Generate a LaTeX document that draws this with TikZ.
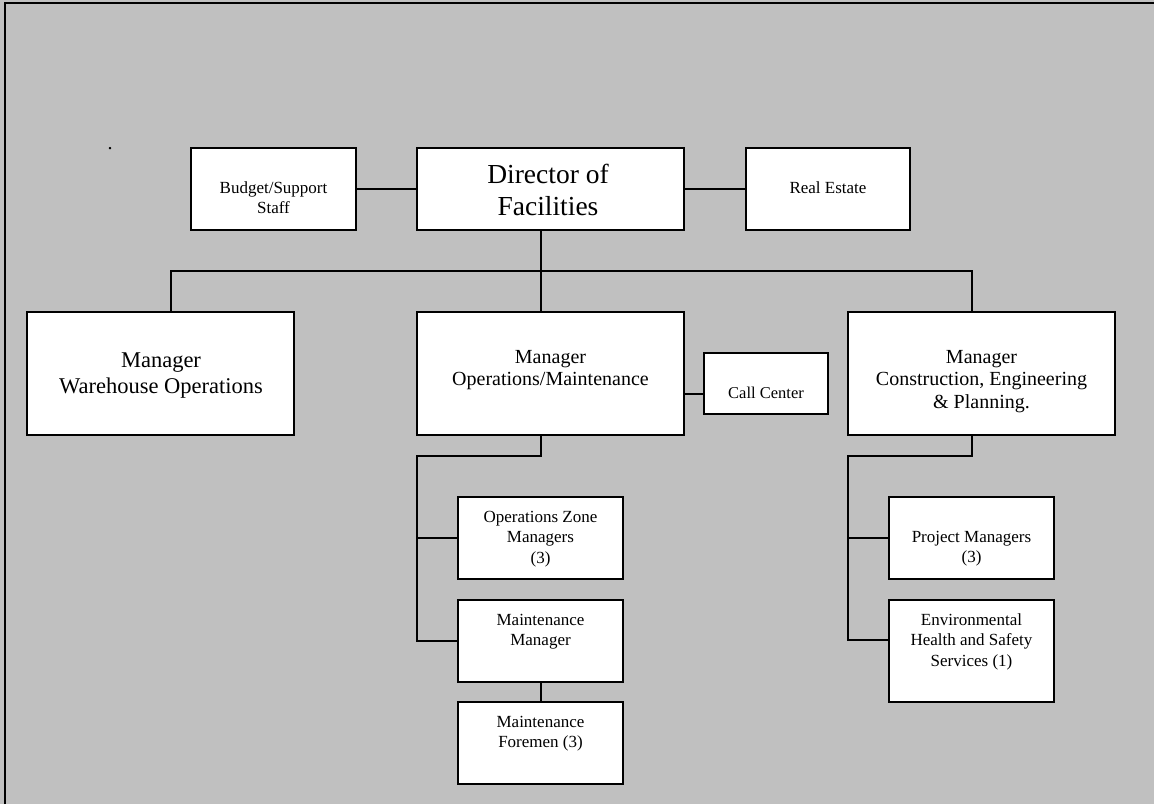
\documentclass[tikz,border=0pt]{standalone}
\usepackage{fontspec}
\setmainfont{Liberation Serif}
\usetikzlibrary{calc}
\definecolor{panel}{HTML}{C0C0C0}
\newcommand{\lines}[1]{\begin{tabular}[t]{@{}c@{}}#1\end{tabular}}
\begin{document}
\begin{tikzpicture}[x=1pt,y=-1pt,
  orgbox/.style={draw=black,fill=white,line width=1.8pt,inner sep=0pt},
  link/.style={draw=black,line width=1.6pt},
  txtbig/.style={anchor=base,inner sep=0pt,font=\fontsize{27.5}{32}\selectfont},
  txtmgr/.style={anchor=base,inner sep=0pt,font=\fontsize{20}{22.5}\selectfont},
  txtwh/.style={anchor=base,inner sep=0pt,font=\fontsize{22.5}{26}\selectfont},
  txtsm/.style={anchor=base,inner sep=0pt,font=\fontsize{17}{20.5}\selectfont}]
  % page and frame
  \fill[panel] (0,0) rectangle (1154,804);
  \useasboundingbox (0,0) rectangle (1154,804);
  \draw[line width=2pt] (5,804) -- (5,3) -- (1154,3);
  \node[inner sep=0pt,anchor=base,font=\fontsize{20}{22}\selectfont] (dot) at (110,149) {.};

  % boxes
  \node[orgbox,minimum width=165,minimum height=82] (bud) at (273.5,189) {};
  \node[orgbox,minimum width=267,minimum height=82] (dir) at (550.5,189) {};
  \node[orgbox,minimum width=164,minimum height=82] (re)  at (828,189) {};
  \node[orgbox,minimum width=267,minimum height=123] (wh) at (160.5,373.5) {};
  \node[orgbox,minimum width=267,minimum height=123] (om) at (550.5,373.5) {};
  \node[orgbox,minimum width=267,minimum height=123] (cep) at (981.5,373.5) {};
  \node[orgbox,minimum width=124,minimum height=61] (cc) at (766,383.5) {};
  \node[orgbox,minimum width=165,minimum height=82] (oz) at (540.5,538) {};
  \node[orgbox,minimum width=165,minimum height=82] (mm) at (540.5,641) {};
  \node[orgbox,minimum width=165,minimum height=82] (mf) at (540.5,743) {};
  \node[orgbox,minimum width=165,minimum height=82] (pm) at (971.5,538) {};
  \node[orgbox,minimum width=165,minimum height=102] (ehs) at (971.5,651) {};

  % labels
  \node[txtsm] (budT) at (273.5,193) {\lines{Budget/Support\\Staff}};
  \node[txtbig] (dirT) at (548,183) {\lines{Director of\\Facilities}};
  \node[txtsm] (reT) at (828,193) {Real Estate};
  \node[txtwh] (whT) at (161,367) {\lines{Manager\\Warehouse Operations}};
  \node[txtmgr] (omT) at (550.5,363) {\lines{Manager\\Operations/Maintenance}};
  \node[txtmgr] (cepT) at (981.5,363) {\lines{Manager\\Construction, Engineering\\\& Planning.}};
  \node[txtsm,font=\fontsize{16.5}{20}\selectfont] (ccT) at (766,398) {Call Center};
  \node[txtsm] (ozT) at (540.5,522) {\lines{Operations Zone\\Managers\\(3)}};
  \node[txtsm] (mmT) at (540.5,625) {\lines{Maintenance\\Manager}};
  \node[txtsm] (mfT) at (540.5,727) {\lines{Maintenance\\Foremen (3)}};
  \node[txtsm] (pmT) at (971.5,542) {\lines{Project Managers\\(3)}};
  \node[txtsm] (ehsT) at (971.5,625) {\lines{Environmental\\Health and Safety\\Services (1)}};

  % junction points of the tree
  \coordinate (busL) at (171,271);
  \coordinate (trunk) at (541,271);
  \coordinate (busR) at (972,271);
  \coordinate (opsbend) at (417,456);
  \coordinate (cepbend) at (848,456);
  \coordinate (ccin) at ([yshift=-10.5pt]cc.west);
  \coordinate (ehsin) at ([yshift=-41pt]ehs.north west);

  % connectors
  \draw[link] (bud.east) -- (dir.west);
  \draw[link] (dir.east) -- (re.west);
  \draw[link] (dir.south -| trunk) -- (om.north -| trunk);
  \draw[link] (wh.north -| busL) -- (busL) -- (busR) -- (cep.north -| busR);
  \draw[link] (ccin -| om.east) -- (ccin);
  \draw[link] (om.south -| trunk) |- (opsbend) -- (opsbend |- mm.west) -- (mm.west);
  \draw[link] (opsbend |- oz.west) -- (oz.west);
  \draw[link] (mm.south -| trunk) -- (mf.north -| trunk);
  \draw[link] (cep.south -| busR) |- (cepbend) -- (cepbend |- ehsin) -- (ehsin);
  \draw[link] (cepbend |- pm.west) -- (pm.west);
\end{tikzpicture}
\end{document}
